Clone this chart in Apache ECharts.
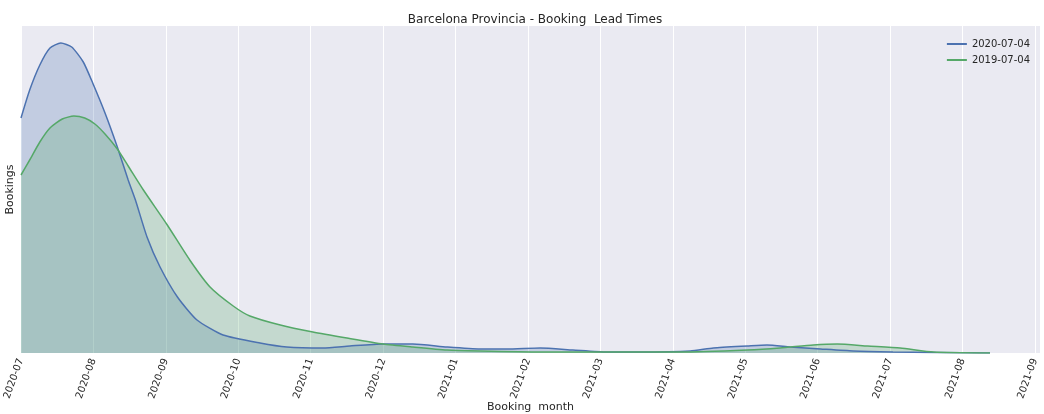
<!DOCTYPE html>
<html>
<head>
<meta charset="utf-8">
<script src="https://cdn.jsdelivr.net/npm/echarts@6/dist/echarts.min.js"></script>
<style>
  html, body { margin: 0; padding: 0; background: #fff; }
  #box { width: 1044px; height: 414px; }
</style>
</head>
<body>
<div id="box"></div>
<script>
// tick labels, one per month (equal spacing on the axis)
const months = ["2020-07", "2020-08", "2020-09", "2020-10", "2020-11", "2020-12",
  "2021-01", "2021-02", "2021-03", "2021-04", "2021-05", "2021-06",
  "2021-07", "2021-08", "2021-09"];

// position in months from 2020-07, and bookings (arbitrary units)
const blueX = [0, 0.12, 0.26, 0.4, 0.55, 0.7, 0.86, 0.99, 1.16, 1.33, 1.48, 1.58, 1.74, 1.92,
  2.16, 2.43, 2.79, 3.3, 3.67, 4.17, 4.54, 5.0, 5.41, 5.88, 6.34, 6.71, 7.17, 7.62, 8.09,
  8.55, 9.24, 9.56, 10.03, 10.3, 10.62, 11.04, 11.49, 12.04, 12.6, 13.38];
const blueY = [235, 263, 288, 305, 310, 306, 291, 270, 240, 206, 173, 153, 116, 86,
  56, 33, 18, 10, 6, 5, 7, 9, 9, 6, 4, 4, 5, 3, 1,
  1, 2, 5, 7, 8, 6, 4, 2, 1, 0.5, 0];

const greenX = [0, 0.12, 0.26, 0.4, 0.57, 0.73, 0.88, 1.02, 1.16, 1.33, 1.48, 1.69, 2.02,
  2.33, 2.61, 2.93, 3.16, 3.58, 4.03, 4.5, 5.0, 5.41, 5.88, 6.34, 7.17, 8.14, 9.1,
  10.03, 10.48, 10.94, 11.27, 11.69, 12.14, 12.6, 13.38];
const greenY = [178, 193, 211, 225, 234, 237, 235, 229, 219, 204, 187, 163, 128,
  93, 66, 47, 37, 28, 21, 15, 9, 6, 3, 2, 1, 1, 1,
  3, 5, 8, 9, 7, 5, 1, 0];

const seriesNames = ["2020-07-04", "2019-07-04"];

const font = "DejaVu Sans";
const txt = "#262626";

function pairs(xs, ys) {
  return xs.map((x, i) => [x, ys[i]]);
}

let myChart = echarts.init(document.getElementById("box"));
let option = {
  animation: false,
  textStyle: { fontFamily: font },
  title: {
    text: "Barcelona Provincia - Booking  Lead Times",
    left: 530,
    textAlign: "center",
    top: 9,
    textStyle: { fontFamily: font, fontSize: 12, fontWeight: "normal", color: txt },
  },
  legend: {
    data: seriesNames,
    orient: "vertical",
    right: 9,
    top: 34,
    icon: "rect",
    itemWidth: 20,
    itemHeight: 2,
    itemGap: 6,
    textStyle: { fontFamily: font, fontSize: 10, color: txt },
  },
  grid: {
    left: 21,
    right: 4,
    top: 26,
    bottom: 61,
    outerBoundsMode: "none",
    containLabel: false,
    show: true,
    backgroundColor: "#eaeaf2",
    borderWidth: 0,
  },
  xAxis: {
    type: "value",
    min: 0,
    max: 14.07,
    interval: 1,
    name: "Booking  month",
    nameLocation: "middle",
    nameGap: 49,
    nameMoveOverlap: false,
    nameTextStyle: { fontFamily: font, fontSize: 11, color: txt },
    axisLine: { show: false },
    axisTick: { show: false },
    splitLine: { show: true, lineStyle: { color: "#ffffff", width: 1 } },
    axisLabel: {
      rotate: 70,
      margin: 6,
      fontFamily: font,
      fontSize: 10,
      color: txt,
      showMaxLabel: false,
      formatter: (v) => (Number.isInteger(v) ? months[v] : ""),
    },
  },
  yAxis: {
    type: "value",
    min: 0,
    max: 327,
    name: "Bookings",
    nameLocation: "middle",
    nameGap: 5,
    nameRotate: 90,
    nameTextStyle: { fontFamily: font, fontSize: 11, color: txt },
    axisLine: { show: false },
    axisTick: { show: false },
    axisLabel: { show: false },
    splitLine: { show: false },
  },
  series: [
    {
      name: seriesNames[0],
      type: "line",
      smooth: 0.2,
      showSymbol: false,
      data: pairs(blueX, blueY),
      itemStyle: { color: "#4c72b0" },
      lineStyle: { color: "#4c72b0", width: 1.5 },
      areaStyle: { color: "#4c72b0", opacity: 0.25 },
    },
    {
      name: seriesNames[1],
      type: "line",
      smooth: 0.2,
      showSymbol: false,
      data: pairs(greenX, greenY),
      itemStyle: { color: "#55a868" },
      lineStyle: { color: "#55a868", width: 1.5 },
      areaStyle: { color: "#55a868", opacity: 0.25 },
    },
  ],
};
myChart.setOption(option);
</script>
</body>
</html>
